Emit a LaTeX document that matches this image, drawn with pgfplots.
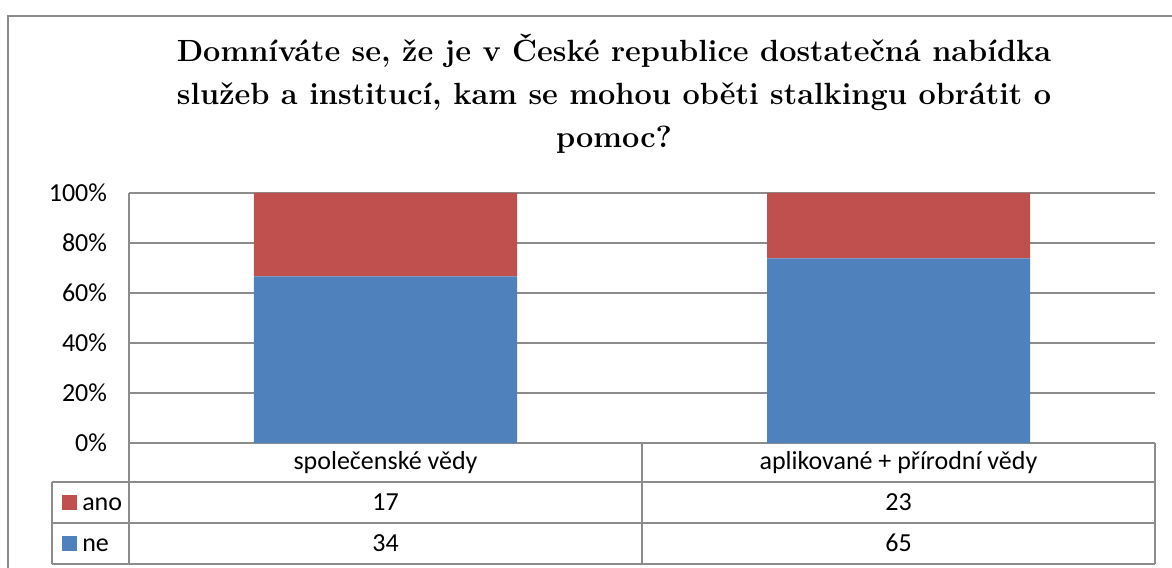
\documentclass[border=0pt]{standalone}
\usepackage{pgfplots}
\pgfplotsset{compat=1.18}
\usepackage{fontspec}
\setsansfont{Carlito}
\definecolor{cblue}{HTML}{4F81BD}
\definecolor{cred}{HTML}{C0504D}
\definecolor{cgrid}{HTML}{8C8C8C}
\begin{document}
\begin{tikzpicture}
\begin{axis}[
  at={(0,0)}, anchor=south west,
  scale only axis,
  width=769.5pt, height=187.5pt,
  ybar stacked,
  bar width=197.25pt,
  xmin=-0.5, xmax=1.5,
  ymin=0, ymax=100,
  xtick={0,1},
  xticklabels={společenské vědy, aplikované + přírodní vědy},
  ytick={0,20,40,60,80,100},
  yticklabel={\pgfmathprintnumber{\tick}\%},
  /pgf/number format/assume math mode=true,
  ymajorgrids,
  grid style={cgrid, line width=0.9pt},
  major tick length=0pt,
  axis x line*=bottom,
  axis y line*=left,
  axis line style={cgrid, line width=0.9pt, -},
  tick label style={font=\sffamily\fontsize{19.5}{22}\selectfont},
  yticklabel style={anchor=east, xshift=-13pt},
  xticklabel style={anchor=center, yshift=-14.6pt},
]
\addplot[fill=cblue, draw=none] coordinates {(0,66.67) (1,73.86)};
\addplot[fill=cred, draw=none] coordinates {(0,33.33) (1,26.14)};
\end{axis}
\begin{scope}[x=0.75pt, y=-0.75pt, xshift=-96.75pt, yshift=332.25pt]
  \useasboundingbox (0,0) rectangle (1172,568);
  % outer frame
  \draw[cgrid, line width=0.9pt] (8,568) -- (8,16) -- (1172,16);
  % title
  \node[anchor=base, inner sep=0] at (614,148)
    {\normalfont\rmfamily\bfseries\fontsize{23}{32.25}\selectfont
     \def\arraystretch{1}\setlength{\tabcolsep}{0pt}%
     \begin{tabular}[b]{c}
     Domníváte se, že je v České republice dostatečná nabídka\\
     služeb a institucí, kam se mohou oběti stalkingu obrátit o\\
     pomoc?
     \end{tabular}};
  % table lines
  \begin{scope}[cgrid, line width=0.9pt]
    \draw (52,482) -- (1155,482);
    \draw (52,523) -- (1155,523);
    \draw (52,564) -- (1155,564);
    \draw (52,482) -- (52,564);
    \draw (129,443) -- (129,564);
    \draw (642,443) -- (642,564);
    \draw (1155,443) -- (1155,564);
  \end{scope}
  % legend keys
  \fill[cred] (62,495) rectangle (77,510);
  \fill[cblue] (62,536) rectangle (77,551);
  \begin{scope}[font=\sffamily\fontsize{19.5}{22}\selectfont]
    \node[anchor=base west, inner sep=0] at (82,510) {ano};
    \node[anchor=base west, inner sep=0] at (82,551) {ne};
    \node[anchor=base, inner sep=0] at (385.5,510) {17};
    \node[anchor=base, inner sep=0] at (898.5,510) {23};
    \node[anchor=base, inner sep=0] at (385.5,551) {34};
    \node[anchor=base, inner sep=0] at (898.5,551) {65};
  \end{scope}
\end{scope}
\end{tikzpicture}
\end{document}
